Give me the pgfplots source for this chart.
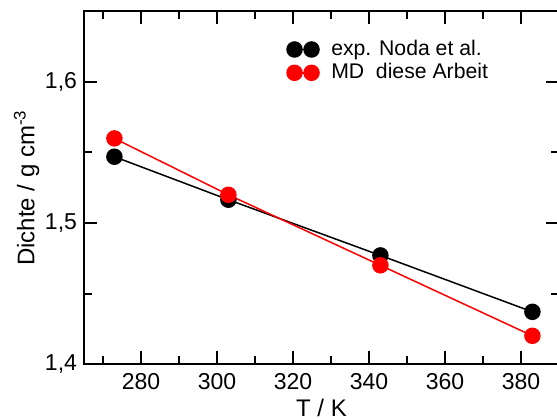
\documentclass[border=0pt]{standalone}
\usepackage{fontspec}
\setmainfont{Liberation Sans}
\usepackage{pgfplots}
\pgfplotsset{compat=1.18}
\begin{document}
\begin{tikzpicture}
\begin{axis}[
  scale only axis,
  width=237.5bp, height=176.25bp,
  xmin=265, xmax=390, ymin=1.4, ymax=1.65,
  xtick={280,300,...,380}, minor xtick={270,290,...,390},
  ytick={1.4,1.5,1.6}, minor ytick={1.45,1.55},
  tick align=inside,
  major tick length=6.3bp, minor tick length=3.8bp,
  axis line style={line width=1bp},
  every tick/.style={line width=1bp, black},
  /pgf/number format/assume math mode=true,
  yticklabel style={/pgf/number format/.cd, use comma, fixed, fixed zerofill, precision=1},
  ticklabel style={font=\fontsize{11.5bp}{13bp}\selectfont},
  xticklabel style={yshift=-1bp},
  xlabel={T / K}, ylabel={Dichte / g cm\textsuperscript{-3}},
  label style={font=\fontsize{12bp}{14bp}\selectfont},
  xlabel style={yshift=2bp},
  ylabel style={yshift=-4bp},
  legend style={draw=none, fill=none, at={(rel axis cs:0.414,0.942)}, anchor=north west,
    font=\fontsize{10.6bp}{12.5bp}\selectfont, row sep=-1.5bp},
  legend cell align=left,
  legend image code/.code={\draw[#1] plot coordinates {(0bp,0bp) (8.5bp,0bp)}; \path (16bp,0bp);},
  clip=false,
]
\addplot[black, line width=0.75bp, mark=*, mark size=3.75bp] coordinates {
  (273,1.547) (303,1.5165) (343,1.477) (383,1.437)};
\addlegendentry{exp. Noda et al.}
\addplot[red, line width=0.75bp, mark=*, mark size=3.75bp, mark options={fill=red}] coordinates {
  (273,1.560) (303,1.520) (343,1.470) (383,1.420)};
\addlegendentry{MD~~diese Arbeit}
\coordinate (O) at (rel axis cs:0,0);
\end{axis}
\pgfresetboundingbox
\path[use as bounding box] (O) ++(-42bp,-27.5bp) rectangle ++(278.5bp,209.5bp);
\end{tikzpicture}
\end{document}
